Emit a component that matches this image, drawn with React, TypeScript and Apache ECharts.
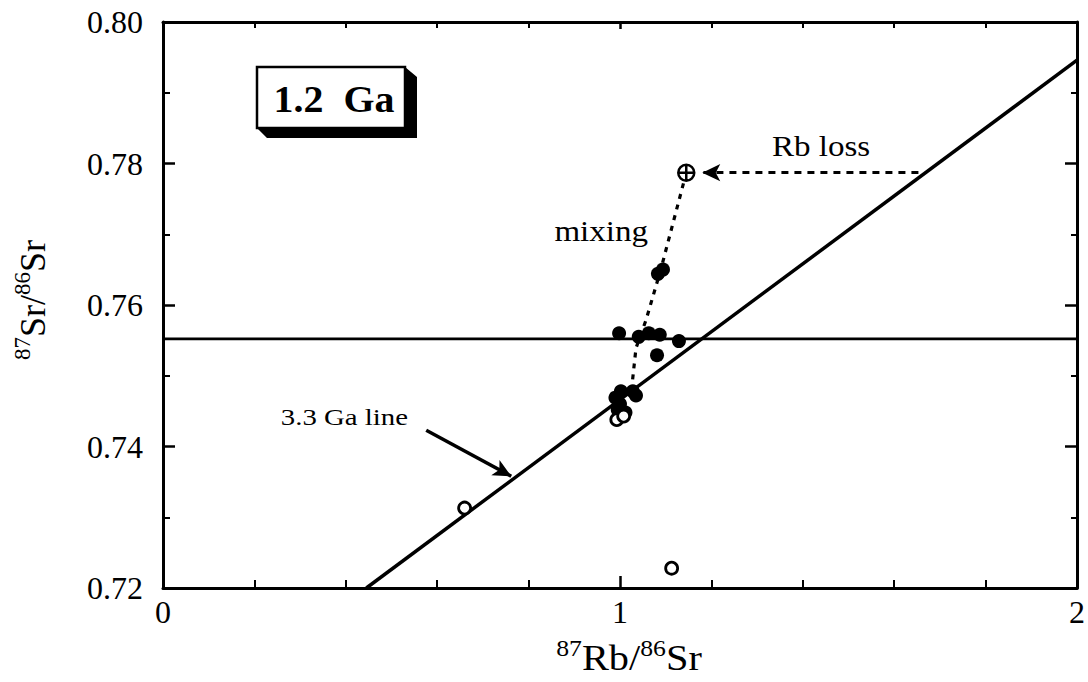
import React, { useEffect, useRef } from "react";
import * as echarts from "echarts";

const xTickLabels = ["0", "1", "2"];
const yTickLabels = ["0.72", "0.74", "0.76", "0.78", "0.80"];

const filledPoints: number[][] = [
  [0.998, 0.756],
  [1.041, 0.7555],
  [1.063, 0.756],
  [1.087, 0.7558],
  [1.129, 0.7549],
  [1.081, 0.7529],
  [1.083, 0.7644],
  [1.094, 0.765],
  [1.002, 0.7478],
  [1.035, 0.7472],
  [0.99, 0.7469],
  [1.0, 0.746],
  [1.012, 0.7448],
  [0.995, 0.7452],
  [1.028, 0.7478],
];
const openPoints: number[][] = [
  [0.66, 0.7313],
  [1.113, 0.7228],
  [0.993, 0.7438],
  [1.008, 0.7443],
];
const crossedPoints: number[][] = [[1.145, 0.7787]];
const mixingPath: number[][] = [
  [1.145, 0.7787],
  [1.088, 0.7647],
  [1.057, 0.7579],
  [1.035, 0.7539],
  [1.026, 0.7485],
];
const horizontalLine: number[][] = [
  [0, 0.7552],
  [2, 0.7552],
];
const isochron33: number[][] = [
  [0.445, 0.72],
  [2, 0.7946],
];
const rbLossArrow: number[][] = [
  [1.653, 0.7787],
  [1.18, 0.7787],
];
const isochronPointer: number[][] = [
  [0.576, 0.7423],
  [0.762, 0.7358],
];

const SERIF = "'Liberation Serif', 'DejaVu Serif', serif";
const STRETCH = 1.14;

export default function App() {
  const ref = useRef<HTMLDivElement>(null);
  useEffect(() => {
    if (!ref.current) return;
    const chart = echarts.init(ref.current, undefined, { renderer: "svg" });
    const axisLine = { show: true, onZero: false, lineStyle: { color: "#000", width: 3 } };
    const xBase = {
      type: "value" as const,
      min: 0,
      max: 2,
      interval: 1,
      splitLine: { show: false },
      axisLine,
    };
    const yBase = {
      type: "value" as const,
      min: 0.72,
      max: 0.8,
      interval: 0.02,
      splitLine: { show: false },
      axisLine,
    };
    const richTitle = {
      b: { fontFamily: SERIF, fontSize: 36, fill: "#000", lineHeight: 40, verticalAlign: "bottom" },
      sup: { fontFamily: SERIF, fontSize: 23, fill: "#000", lineHeight: 40, verticalAlign: "top" },
    };
    chart.setOption({
      animation: false,
      backgroundColor: "#fff",
      grid: { left: 163, top: 22, width: 916, height: 566 },
      xAxis: [
        {
          ...xBase,
          position: "bottom",
          axisTick: { inside: true, length: 12, lineStyle: { color: "#000", width: 2.5 } },
          minorTick: { show: true, splitNumber: 5, length: 8, lineStyle: { color: "#000", width: 2 } },
          axisLabel: {
            fontFamily: SERIF,
            fontSize: 32,
            color: "#000",
            margin: 8,
            formatter: (v: number) => xTickLabels[Math.round(v)] ?? "",
          },
        },
        {
          ...xBase,
          position: "top",
          axisTick: { inside: true, length: 7, lineStyle: { color: "#000", width: 2.5 } },
          minorTick: { show: true, splitNumber: 5, length: 6, lineStyle: { color: "#000", width: 2 } },
          axisLabel: { show: false },
        },
      ],
      yAxis: [
        {
          ...yBase,
          position: "left",
          axisTick: { inside: true, length: 12, lineStyle: { color: "#000", width: 2.5 } },
          minorTick: { show: true, splitNumber: 2, length: 7, lineStyle: { color: "#000", width: 2 } },
          axisLabel: {
            fontFamily: SERIF,
            fontSize: 32,
            color: "#000",
            margin: 20,
            formatter: (v: number) => yTickLabels[Math.round((v - 0.72) / 0.02)] ?? "",
          },
        },
        {
          ...yBase,
          position: "right",
          axisTick: { inside: true, length: 12, lineStyle: { color: "#000", width: 2.5 } },
          minorTick: { show: true, splitNumber: 2, length: 6, lineStyle: { color: "#000", width: 2 } },
          axisLabel: { show: false },
        },
      ],
      series: [
        {
          type: "line",
          data: horizontalLine,
          symbol: "none",
          lineStyle: { color: "#000", width: 2.8 },
          z: 2,
          markLine: {
            silent: true,
            symbol: ["none", "arrow"],
            symbolSize: [13, 18],
            label: { show: false },
            emphasis: { disabled: true },
            data: [
              [
                { coord: rbLossArrow[0], lineStyle: { color: "#000", width: 3, type: [7, 6] } },
                { coord: rbLossArrow[1] },
              ],
              [
                { coord: isochronPointer[0], lineStyle: { color: "#000", width: 3.5, type: "solid" } },
                { coord: isochronPointer[1] },
              ],
            ],
          },
        },
        {
          type: "line",
          data: isochron33,
          symbol: "none",
          lineStyle: { color: "#000", width: 3.5 },
          z: 2,
        },
        {
          type: "line",
          data: mixingPath,
          symbol: "none",
          lineStyle: { color: "#000", width: 3.2, type: [5, 6] },
          z: 2,
        },
        {
          type: "scatter",
          data: filledPoints,
          symbol: "circle",
          symbolSize: 14,
          itemStyle: { color: "#000", opacity: 1 },
          z: 3,
        },
        {
          type: "scatter",
          data: openPoints,
          symbol: "circle",
          symbolSize: 12,
          itemStyle: { color: "#fff", borderColor: "#000", borderWidth: 2.8, opacity: 1 },
          z: 4,
        },
        {
          type: "scatter",
          data: crossedPoints,
          symbol: "path://M10,0 A10,10 0 1,1 10,20 A10,10 0 1,1 10,0 Z M0,10 L20,10 M10,0 L10,20",
          symbolSize: 16,
          itemStyle: { color: "#fff", borderColor: "#000", borderWidth: 2.5, opacity: 1 },
          z: 4,
        },
      ],
      graphic: [
        {
          type: "polygon",
          shape: {
            points: [
              [405, 67],
              [417, 77],
              [417, 138],
              [267, 138],
              [257, 128],
              [405, 128],
            ],
          },
          style: { fill: "#000" },
          z: 10,
        },
        {
          type: "rect",
          shape: { x: 257, y: 67, width: 148, height: 61 },
          style: { fill: "#fff", stroke: "#000", lineWidth: 2.5 },
          z: 11,
        },
        {
          type: "text",
          x: 334,
          y: 99,
          z: 12,
          scaleX: 1.05,
          style: {
            text: "1.2  Ga",
            fontFamily: SERIF,
            fontWeight: "bold",
            fontSize: 38,
            fill: "#000",
            align: "center",
            verticalAlign: "middle",
          },
        },
        {
          type: "text",
          x: 821,
          y: 146,
          z: 12,
          scaleX: STRETCH,
          style: {
            text: "Rb loss",
            fontFamily: SERIF,
            fontSize: 29,
            fill: "#000",
            align: "center",
            verticalAlign: "middle",
          },
        },
        {
          type: "text",
          x: 648,
          y: 231,
          z: 12,
          scaleX: STRETCH,
          style: {
            text: "mixing",
            fontFamily: SERIF,
            fontSize: 29,
            fill: "#000",
            align: "right",
            verticalAlign: "middle",
          },
        },
        {
          type: "text",
          x: 408,
          y: 417,
          z: 12,
          scaleX: 1.2,
          style: {
            text: "3.3 Ga line",
            fontFamily: SERIF,
            fontSize: 24,
            fill: "#000",
            align: "right",
            verticalAlign: "middle",
          },
        },
        {
          type: "text",
          x: 629,
          y: 656,
          z: 12,
          scaleX: 1.12,
          style: {
            text: "{sup|87}{b|Rb/}{sup|86}{b|Sr}",
            align: "center",
            verticalAlign: "middle",
            rich: richTitle,
          },
        },
        {
          type: "text",
          x: 31,
          y: 300,
          rotation: Math.PI / 2,
          z: 12,
          style: {
            text: "{sup|87}{b|Sr/}{sup|86}{b|Sr}",
            align: "center",
            verticalAlign: "middle",
            rich: richTitle,
          },
        },
      ],
    });
    return () => chart.dispose();
  }, []);
  return (
    <div
      ref={ref}
      style={{ position: "fixed", left: 0, top: 0, width: 1088, height: 682, background: "#fff" }}
    />
  );
}
